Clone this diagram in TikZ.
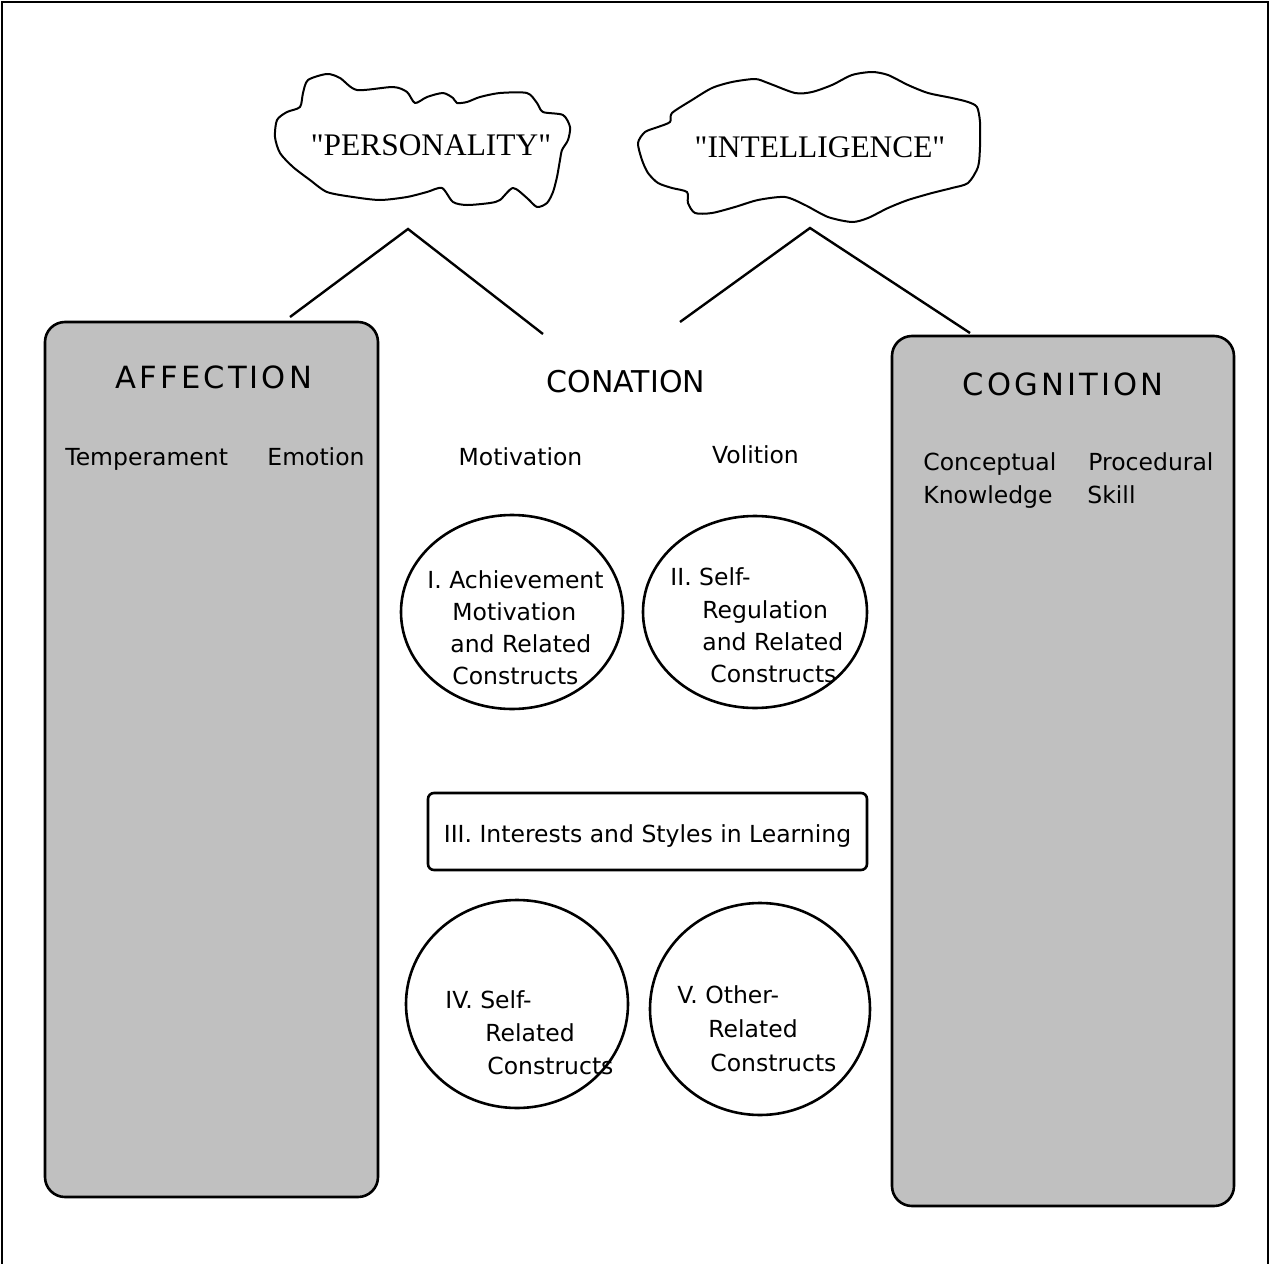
\documentclass[tikz,border=0pt]{standalone}
\usepackage{fontspec}
\setmainfont{DejaVu Sans}
\newfontfamily\cloudfont{Liberation Serif}
\newfontfamily\headfont[LetterSpace=10]{DejaVu Sans}
\usetikzlibrary{shapes.geometric}
\definecolor{boxgray}{HTML}{C0C0C0}
\begin{document}
\begin{tikzpicture}[x=0.5pt,y=-0.5pt,
  panel/.style={draw, line width=1.3pt, fill=boxgray, rounded corners=10pt, inner sep=0pt},
  oval/.style={draw, line width=1.3pt, ellipse, inner sep=0pt},
  bar/.style={draw, line width=1.3pt, rounded corners=3pt, inner sep=0pt},
  txt/.style={inner sep=0pt, font=\fontsize{11.75}{14}\selectfont},
  head/.style={inner sep=0pt, font=\headfont\fontsize{15.3}{18}\selectfont},
  conhead/.style={inner sep=0pt, font=\fontsize{15}{18}\selectfont},
  cloudtxt/.style={inner sep=0pt, font=\cloudfont\fontsize{15.7}{18}\selectfont},
  cloudline/.style={line width=1pt, line join=round},
  link/.style={line width=1.2pt}]
\useasboundingbox (0,0) rectangle (1271,1264);
% frame
\draw[line width=1.3pt] (2,1264) -- (2,2) -- (1268,2) -- (1268,1264);

% clouds
\draw[cloudline] plot[smooth cycle, tension=0.45] coordinates {
 (303,93) (308,80) (327,74) (340,78) (357,90) (393,87) (407,92) (415,103)
 (427,97) (443,93) (453,98) (457,103) (467,102) (480,97) (500,93) (527,93)
 (537,103) (543,112) (563,115) (570,127) (568,140) (562,150) (560,160)
 (557,177) (553,192) (547,203) (537,207) (527,198) (513,188) (500,200)
 (490,203) (467,205) (453,202) (442,188) (427,192) (407,197) (380,200)
 (353,197) (327,192) (310,180) (293,167) (280,153) (275,137) (277,120)
 (287,112) (300,107)};
\node[cloudtxt, anchor=base] (pers) at (431,155) {"PERSONALITY"};

\draw[cloudline] plot[smooth cycle, tension=0.45] coordinates {
 (672,113) (692,100) (712,88) (732,82) (755,79) (768,83) (795,93) (812,92)
 (832,85) (852,75) (872,72) (888,75) (908,85) (928,93) (952,98) (968,102)
 (977,107) (980,122) (980,147) (978,167) (968,183) (952,188) (932,193)
 (908,200) (888,208) (868,218) (852,222) (828,217) (805,205) (785,197)
 (758,200) (735,207) (712,213) (695,213) (688,203) (687,192) (672,188)
 (658,183) (648,173) (642,160) (638,143) (645,132) (658,127) (670,122)};
\node[cloudtxt, anchor=base] (intel) at (820,157) {"INTELLIGENCE"};

% connectors
\coordinate (pApex) at (408,229);
\coordinate (pL) at (290,317);
\coordinate (pR) at (543,334);
\coordinate (iApex) at (810,228);
\coordinate (iL) at (680,322);
\coordinate (iR) at (970,333);
\draw[link] (pL) -- (pApex) -- (pR);
\draw[link] (iL) -- (iApex) -- (iR);

% side panels
\node[panel, minimum width=166.5pt, minimum height=437.5pt] (aff) at (211.5,759.5) {};
\node[panel, minimum width=171pt, minimum height=435pt] (cog) at (1063,771) {};

\node[head, anchor=base] (affT) at (214,388) {AFFECTION};
\node[txt, anchor=base west] (temp) at (65,465) {Temperament};
\node[txt, anchor=base west] (emo) at (267,465) {Emotion};

\node[head, anchor=base] (cogT) at (1063,395) {COGNITION};
\node[txt, anchor=base west] (conc) at (923,470) {Conceptual};
\node[txt, anchor=base west] (know) at (923,503) {Knowledge};
\node[txt, anchor=base west] (proc) at (1088,470) {Procedural};
\node[txt, anchor=base west] (skill) at (1087,503) {Skill};

% conation
\node[conhead, anchor=base] (conT) at (626,392) {CONATION};
\node[txt, anchor=base] (motiv) at (520.5,465) {Motivation};
\node[txt, anchor=base] (voli) at (755.5,463) {Volition};

\node[oval, minimum width=111pt, minimum height=97pt] (e1) at (512,612) {};
\node[txt, anchor=base west] (e1a) at (427,588) {I. Achievement};
\node[txt, anchor=base west] (e1b) at (452,620) {Motivation};
\node[txt, anchor=base west] (e1c) at (450,652) {and Related};
\node[txt, anchor=base west] (e1d) at (452,684) {Constructs};

\node[oval, minimum width=112pt, minimum height=96pt] (e2) at (755,612) {};
\node[txt, anchor=base west] (e2a) at (670,585) {II. Self-};
\node[txt, anchor=base west] (e2b) at (702,618) {Regulation};
\node[txt, anchor=base west] (e2c) at (702,650) {and Related};
\node[txt, anchor=base west] (e2d) at (710,682) {Constructs};

\node[bar, minimum width=219.5pt, minimum height=38.5pt] (r3) at (647.5,831.5) {};
\node[txt, anchor=base] (r3t) at (647.5,842) {III. Interests and Styles in Learning};

\node[oval, minimum width=111pt, minimum height=104pt] (e4) at (517,1004) {};
\node[txt, anchor=base west] (e4a) at (445,1008) {IV. Self-};
\node[txt, anchor=base west] (e4b) at (485,1041) {Related};
\node[txt, anchor=base west] (e4c) at (487,1074) {Constructs};

\node[oval, minimum width=110pt, minimum height=106pt] (e5) at (760,1009) {};
\node[txt, anchor=base west] (e5a) at (677,1003) {V. Other-};
\node[txt, anchor=base west] (e5b) at (708,1037) {Related};
\node[txt, anchor=base west] (e5c) at (710,1071) {Constructs};
\end{tikzpicture}
\end{document}
